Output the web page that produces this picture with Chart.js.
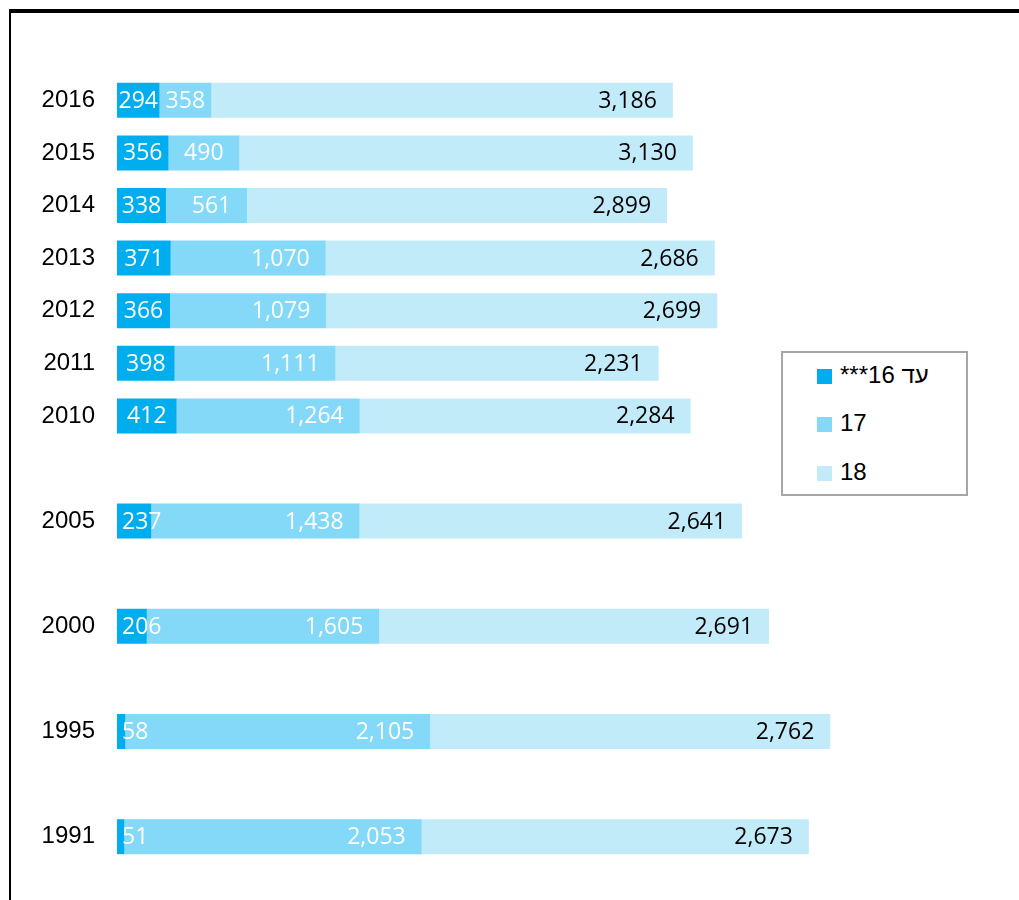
<!DOCTYPE html>
<html>
<head>
<meta charset="utf-8">
<script src="https://cdn.jsdelivr.net/npm/chart.js@4"></script>
<style>
  html, body { margin: 0; padding: 0; background: #fff; }
  #wrap { position: relative; width: 1019px; height: 900px; overflow: hidden; }
  #frame {
    position: absolute; left: 9px; top: 9px; width: 1100px; height: 1000px;
    border-top: 4px solid #000; border-left: 2px solid #000;
  }
  #myChart { position: absolute; left: 0; top: 0; }
  #legend {
    position: absolute; left: 781px; top: 351px; width: 183px; height: 141px;
    border: 2px solid #a6a6a6; background: #fff;
    font-family: "Liberation Sans", Arial, sans-serif; font-size: 24px; color: #000;
  }
  .item { position: absolute; left: 34px; height: 28px; line-height: 28px; white-space: nowrap; }
  .item i { display: inline-block; width: 15px; height: 15px; margin-right: 8px; vertical-align: -1px; }
</style>
</head>
<body>
<div id="wrap">
  <div id="frame"></div>
  <canvas id="myChart" width="1019" height="900"></canvas>
  <div id="legend"></div>
</div>
<script>
/*************************************************
 * Horizontal stacked bars by year and age group *
 *************************************************/
const years = ['2016', '2015', '2014', '2013', '2012', '2011', '2010', '', '2005', '', '2000', '', '1995', '', '1991'];
const seriesNames = ['עד 16***', '17', '18'];
const upTo16 = [294, 356, 338, 371, 366, 398, 412, null, 237, null, 206, null, 58, null, 51];
const age17 = [358, 490, 561, 1070, 1079, 1111, 1264, null, 1438, null, 1605, null, 2105, null, 2053];
const age18 = [3186, 3130, 2899, 2686, 2699, 2231, 2284, null, 2641, null, 2691, null, 2762, null, 2673];
const colors = ['#00aeef', '#84d8f8', '#c2ebfa'];

const fmt = v => v.toLocaleString('en-US');

// data labels drawn by hand (no datalabels plugin)
const barLabels = {
    id: 'barLabels',
    afterDatasetsDraw(chart) {
        const ctx = chart.ctx;
        ctx.save();
        ctx.font = '23px "Open Sans", sans-serif';
        ctx.textBaseline = 'middle';
        ctx.textAlign = 'left';
        chart.data.datasets.forEach((ds, di) => {
            const meta = chart.getDatasetMeta(di);
            meta.data.forEach((bar, i) => {
                const v = ds.data[i];
                if (v == null) return;
                const txt = fmt(v);
                const w = ctx.measureText(txt).width;
                const start = Math.min(bar.base, bar.x);
                const end = Math.max(bar.base, bar.x);
                let x;
                if (di === 0) {
                    // centred, pushed right when the segment is too thin
                    x = (start + end) / 2 - w / 2;
                    if (w > end - start) x = start + 5;
                    ctx.fillStyle = '#fff';
                } else {
                    // inside end
                    x = end - 16 - w;
                    if (x < start + 6) x = start + 6;
                    ctx.fillStyle = di === 1 ? '#fff' : '#000';
                }
                ctx.fillText(txt, x, bar.y + 1);
            });
        });
        ctx.restore();
    }
};

const myChart = new Chart(document.getElementById('myChart').getContext('2d'), {
    type: 'bar',
    data: {
        labels: years,
        datasets: [upTo16, age17, age18].map((d, i) => ({
            label: seriesNames[i],
            data: d,
            backgroundColor: colors[i],
            borderWidth: 0,
            barPercentage: 0.665,
            categoryPercentage: 1
        }))
    },
    options: {
        indexAxis: 'y',
        responsive: false,
        animation: false,
        layout: {
            padding: { top: 74, bottom: 37, left: 0, right: 33 }
        },
        scales: {
            x: {
                stacked: true,
                display: false,
                min: 0,
                max: 6000
            },
            y: {
                stacked: true,
                grid: { display: false, drawTicks: false },
                border: { display: false },
                afterFit: function (scale) { scale.width = 117; },
                ticks: {
                    color: '#000',
                    padding: 22,
                    autoSkip: false,
                    font: { family: '"Liberation Sans", Arial, sans-serif', size: 24 }
                }
            }
        },
        plugins: {
            legend: { display: false },
            tooltip: { enabled: false }
        }
    },
    plugins: [barLabels]
});

// legend box
const legendTops = [8, 56, 105];
document.getElementById('legend').innerHTML = seriesNames.map((name, i) =>
    `<div class="item" style="top:${legendTops[i]}px"><i style="background:${colors[i]}"></i><bdi dir="rtl">${name}</bdi></div>`
).join('');
</script>
</body>
</html>
